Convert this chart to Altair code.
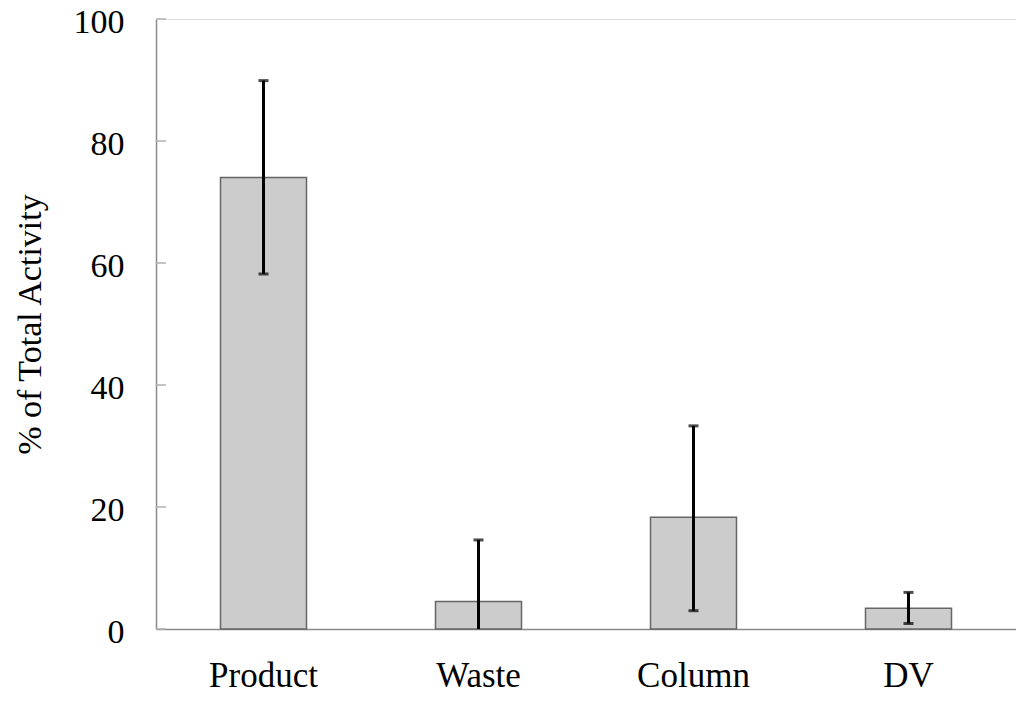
import altair as alt
import pandas as pd

categories = ["Product", "Waste", "Column", "DV"]
values = [74.0, 4.5, 18.3, 3.4]
err_low = [58.2, -5.6, 3.0, 0.9]
err_high = [89.9, 14.6, 33.3, 6.0]
y_ticks = [0, 20, 40, 60, 80, 100]

df = pd.DataFrame({"cat": categories, "val": values, "lo": err_low, "hi": err_high})
ticks_df = pd.DataFrame({"t": y_ticks})

FONT = "Liberation Serif"

x_enc = alt.X("cat:N", sort=categories,
              scale=alt.Scale(paddingInner=0.6, paddingOuter=0.3),
              axis=alt.Axis(title=None, labelFont=FONT, labelFontSize=35, labelColor="black",
                            labelPadding=29, ticks=False, domain=True, domainColor="#8a8a8a",
                            domainWidth=1.5, labelAngle=0))
y_scale = alt.Scale(domain=[0, 100], nice=False)
y_enc = alt.Y("val:Q", scale=y_scale,
              axis=alt.Axis(title="% of Total Activity", titleFont=FONT, titleFontSize=34,
                            titleFontWeight="normal", titleColor="black", titlePadding=26,
                            labelFont=FONT, labelFontSize=34, labelColor="black", labelPadding=32,
                            labelOffset=3, labelFlush=False,
                            values=y_ticks, ticks=False, grid=False, domainColor="#8a8a8a",
                            domainWidth=1.5))

bars = alt.Chart(df).mark_bar(color="#cccccc", stroke="#666666", strokeWidth=1.5).encode(
    x=x_enc, y=y_enc)

rules = alt.Chart(df).mark_rule(color="black", strokeWidth=3, clip=True).encode(
    x=alt.X("cat:N", sort=categories), y=alt.Y("lo:Q", scale=y_scale), y2="hi:Q")

caps_hi = alt.Chart(df).mark_tick(color="black", thickness=3, size=10, orient="horizontal", clip=True).encode(
    x=alt.X("cat:N", sort=categories), y=alt.Y("hi:Q", scale=y_scale))
caps_lo = alt.Chart(df).mark_tick(color="black", thickness=3, size=10, orient="horizontal", clip=True).encode(
    x=alt.X("cat:N", sort=categories), y=alt.Y("lo:Q", scale=y_scale))

inner_ticks = alt.Chart(ticks_df).mark_rule(color="#b0b0b0", strokeWidth=1.5).encode(
    y=alt.Y("t:Q", scale=y_scale), x=alt.value(0), x2=alt.value(10))

chart = alt.layer(bars, rules, caps_hi, caps_lo, inner_ticks).properties(
    width=860, height=610,
    autosize=alt.AutoSizeParams(type="none"),
    padding={"left": 148, "top": 11, "right": 0, "bottom": 64},
).configure_view(stroke="#7a7a7a", strokeWidth=2).configure(background="white")

chart.save("out.html", embed_options={"renderer": "svg", "actions": False})
